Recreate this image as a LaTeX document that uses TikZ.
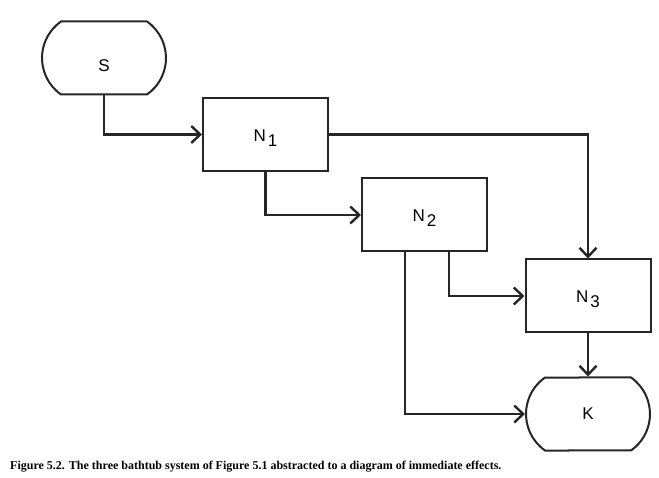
\documentclass[tikz,border=0pt]{standalone}
\usepackage{fontspec}
\setmainfont{Liberation Serif}
\newfontfamily\labfont{Liberation Sans}
\usetikzlibrary{shapes.misc,arrows.meta}
\tikzset{
  base/.style={draw=black!85, line width=2pt, fill=white},
  txt/.style={font=\labfont\fontsize{17}{17}\selectfont, inner sep=0pt},
  proc/.style={base, rectangle, minimum width=125pt, minimum height=73pt, inner sep=0pt},
  term/.style={base, rounded rectangle, rounded rectangle arc length=110, minimum width=124pt, minimum height=73pt, inner sep=0pt},
  conn/.style={draw=black!85, line width=2.4pt, -{Straight Barb[length=9pt,width=17pt,line width=2.4pt]}}
}
\newcommand{\lab}[2]{#1\hspace{2pt}\raisebox{-5pt}{#2}}
\begin{document}
\begin{tikzpicture}[x=1pt,y=-1pt]
\useasboundingbox (0,0) rectangle (659,478);
\node[term, label={[txt, yshift=-8pt]center:S}] (S) at (104,58) {};
\node[proc, label={[txt, yshift=-4pt]center:\lab{N}{1}}] (N1) at (265.5,134.5) {};
\node[proc, label={[txt, yshift=-3pt]center:\lab{N}{2}}] (N2) at (424.5,215) {};
\node[proc, label={[txt, yshift=-3pt]center:\lab{N}{3}}] (N3) at (588,296) {};
\node[term, label={[txt]center:K}] (K) at (588,414) {};
\draw[conn] (S.south) |- (N1.west);
\draw[conn] (N1.south) |- (N2.west);
\draw[conn] (N1.east) -| (N3.north);
\draw[conn] ([xshift=24.5pt]N2.south) |- (N3.west);
\draw[conn] ([xshift=-19.5pt]N2.south) |- (K.west);
\draw[conn] (N3.south) -- (K.north);
\node[anchor=west, inner sep=0pt, font=\fontsize{12}{14}\selectfont\bfseries] (cap) at (10,467) {Figure 5.2. The three bathtub system of Figure 5.1 abstracted to a diagram of immediate effects.};
\end{tikzpicture}
\end{document}
